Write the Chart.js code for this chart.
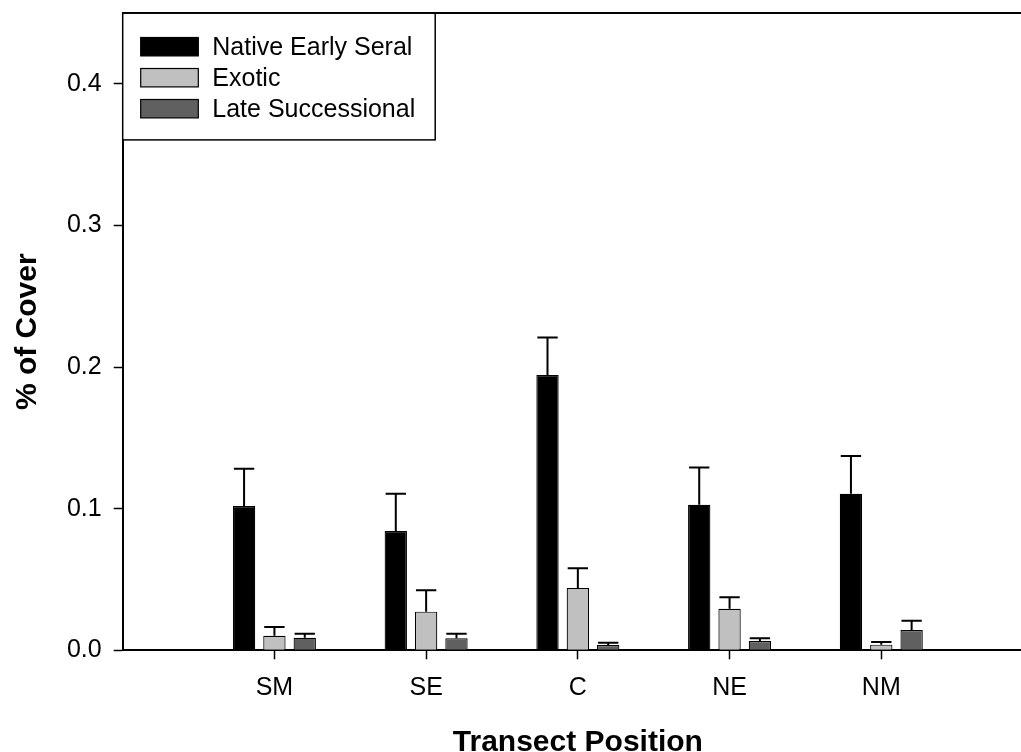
<!DOCTYPE html>
<html>
<head>
<meta charset="utf-8">
<script src="https://cdn.jsdelivr.net/npm/chart.js@4.4.1/dist/chart.umd.min.js"></script>
<style>
  html, body { margin: 0; padding: 0; background: #fff; overflow: hidden; width: 1021px; height: 752px; }
  #wrap { width: 1040px; height: 752px; }
</style>
</head>
<body>
<div id="wrap"><canvas id="c" width="1040" height="752"></canvas></div>
<script>
// Transect positions along the x axis
const positions = ['SM', 'SE', 'C', 'NE', 'NM'];
const seriesNames = ['Native Early Seral', 'Exotic', 'Late Successional'];

// Mean proportion of cover per group, with standard errors
const nativeMean = [0.1019, 0.0843, 0.1944, 0.1028, 0.1106];
const nativeErr  = [0.0263, 0.0263, 0.0265, 0.0264, 0.0266];
const exoticMean = [0.0103, 0.0273, 0.0440, 0.0294, 0.0040];
const exoticErr  = [0.0061, 0.0151, 0.0139, 0.0080, 0.0019];
const lateMean   = [0.0089, 0.0085, 0.0037, 0.0066, 0.0143];
const lateErr    = [0.0028, 0.0032, 0.0017, 0.0019, 0.0066];

const yTicks = [0, 0.1, 0.2, 0.3, 0.4];
const yMax = 0.45;

const FONT = "'Liberation Sans', Arial, Helvetica, sans-serif";
const fills = ['#000000', '#c0c0c0', '#606060'];

// one empty slot on each side of the groups
const xLabels = [''].concat(positions, ['']);
const pad = arr => [null].concat(arr, [null]);

const means = [nativeMean, exoticMean, lateMean];
const errs = [nativeErr, exoticErr, lateErr];

const datasets = seriesNames.map((name, i) => ({
  label: name,
  data: pad(means[i]),
  errors: pad(errs[i]),
  backgroundColor: fills[i],
  borderColor: '#000000',
  borderWidth: 1.2,
  borderSkipped: 'bottom',
  categoryPercentage: 0.6,
  barPercentage: 0.736
}));

// upward error bars with caps
const errorBars = {
  id: 'errorBars',
  afterDatasetsDraw(chart) {
    const ctx = chart.ctx;
    const y = chart.scales.y;
    ctx.save();
    ctx.strokeStyle = '#000';
    ctx.lineWidth = 2;
    chart.data.datasets.forEach((ds, di) => {
      const meta = chart.getDatasetMeta(di);
      meta.data.forEach((bar, i) => {
        const v = ds.data[i];
        const e = ds.errors[i];
        if (v == null || e == null) return;
        const top = y.getPixelForValue(v);
        const cap = y.getPixelForValue(v + e);
        const half = bar.width / 2 - 1;
        ctx.beginPath();
        ctx.moveTo(bar.x, top);
        ctx.lineTo(bar.x, cap);
        ctx.moveTo(bar.x - half, cap);
        ctx.lineTo(bar.x + half, cap);
        ctx.stroke();
      });
    });
    ctx.restore();
  }
};

// boxed legend in the top-left corner of the plot
const boxLegend = {
  id: 'boxLegend',
  afterDraw(chart) {
    const ctx = chart.ctx;
    const { left, top } = chart.chartArea;
    ctx.save();
    ctx.fillStyle = '#fff';
    ctx.fillRect(left, top, 312.5, 126.7);
    ctx.strokeStyle = '#000';
    ctx.lineWidth = 1.5;
    ctx.strokeRect(left, top, 312.5, 126.7);
    ctx.font = '25px ' + FONT;
    ctx.textBaseline = 'middle';
    ctx.textAlign = 'left';
    chart.data.datasets.forEach((ds, i) => {
      const cy = top + 33.5 + i * 31;
      ctx.fillStyle = ds.backgroundColor;
      ctx.fillRect(left + 18, cy - 9.2, 57.6, 18.4);
      ctx.lineWidth = 1.2;
      ctx.strokeStyle = '#000';
      ctx.strokeRect(left + 18, cy - 9.2, 57.6, 18.4);
      ctx.fillStyle = '#000';
      ctx.fillText(ds.label, left + 89.6, cy + 1);
    });
    ctx.restore();
  }
};

new Chart(document.getElementById('c'), {
  type: 'bar',
  data: { labels: xLabels, datasets },
  plugins: [errorBars, boxLegend],
  options: {
    responsive: false,
    animation: false,
    devicePixelRatio: 1,
    layout: { padding: { top: 13.2, right: 7, bottom: 0, left: 0 } },
    plugins: { legend: { display: false }, tooltip: { enabled: false } },
    scales: {
      x: {
        type: 'category',
        offset: false,
        position: 'bottom',
        grid: {
          display: true,
          offset: false,
          drawOnChartArea: false,
          drawTicks: true,
          tickLength: 9,
          tickWidth: 1.5,
          tickColor: c => (c.index === 0 || c.index === xLabels.length - 1) ? 'rgba(0,0,0,0)' : '#000'
        },
        border: { display: true, color: '#000', width: 2 },
        ticks: { color: '#000', font: { family: FONT, size: 25 }, padding: 14, autoSkip: false, maxRotation: 0 },
        title: {
          display: true,
          text: 'Transect Position',
          color: '#000',
          font: { family: FONT, size: 30, weight: 'bold' },
          padding: { top: 0, bottom: -9 }
        },
        afterFit(scale) {
          scale.height = 101.7;
          scale.paddingLeft = 0;
          scale.paddingRight = 0;
        }
      },
      xTop: {
        type: 'category',
        position: 'top',
        offset: false,
        grid: { display: false, drawTicks: false },
        border: { display: true, color: '#000', width: 2 },
        ticks: { display: false },
        afterFit(scale) {
          scale.height = 0;
          scale.paddingLeft = 0;
          scale.paddingRight = 0;
        }
      },
      y: {
        type: 'linear',
        min: 0,
        max: yMax,
        grid: {
          display: true,
          drawOnChartArea: false,
          drawTicks: true,
          tickLength: 9,
          tickWidth: 1.5,
          tickColor: '#000'
        },
        border: { display: true, color: '#000', width: 2 },
        ticks: {
          color: '#000',
          font: { family: FONT, size: 25 },
          padding: 12,
          callback: v => Number(v).toFixed(1)
        },
        afterBuildTicks(scale) { scale.ticks = yTicks.map(v => ({ value: v })); },
        title: {
          display: true,
          text: '% of Cover',
          color: '#000',
          font: { family: FONT, size: 30, weight: 'bold' },
          padding: { top: 9.5, bottom: 0 }
        },
        afterFit(scale) {
          scale.width = 122.7;
          scale.paddingTop = 0;
          scale.paddingBottom = 0;
        }
      }
    }
  }
});
</script>
</body>
</html>
